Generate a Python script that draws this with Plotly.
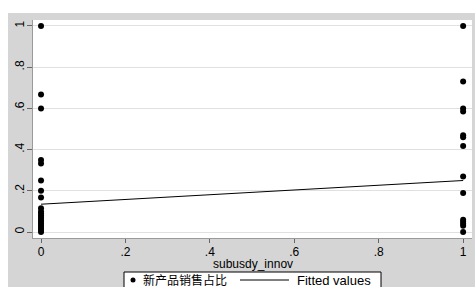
import plotly.graph_objects as go

# data
subsidy_0_share = [1.0, 0.667, 0.6, 0.35, 0.333, 0.25, 0.2, 0.167, 0.115, 0.1, 0.09,
                   0.08, 0.07, 0.06, 0.05, 0.04, 0.03, 0.02, 0.01, 0.0]
subsidy_1_share = [1.0, 0.73, 0.6, 0.585, 0.47, 0.46, 0.417, 0.27, 0.19, 0.06, 0.05,
                   0.04, 0.03, 0.0]
fit_x = [0, 1]
fit_y = [0.135, 0.25]
tick_vals = [0, 0.2, 0.4, 0.6, 0.8, 1]
tick_text = ["0", ".2", ".4", ".6", ".8", "1"]
series_names = ["新产品销售占比", "Fitted values"]
x_title = "subusdy_innov"

xs = [0] * len(subsidy_0_share) + [1] * len(subsidy_1_share)
ys = subsidy_0_share + subsidy_1_share

W, H = 475, 287
ml, mr, mt, mb = 33, 3, 20, 49
pw, ph = W - ml - mr, H - mt - mb


def px(x):
    return (x - ml) / pw


def py(y):
    return 1 - (y - mt) / ph


FONT = "Liberation Sans, Arial, Noto Sans CJK SC, sans-serif"
BG = "#d5d5d5"

fig = go.Figure()
fig.add_trace(go.Scatter(x=xs, y=ys, mode="markers", name=series_names[0],
                         marker=dict(color="black", size=6), showlegend=False))
fig.add_trace(go.Scatter(x=fit_x, y=fit_y, mode="lines", name=series_names[1],
                         line=dict(color="black", width=1), showlegend=False))

# white page strips around the gray graph region
fig.add_shape(type="rect", xref="paper", yref="paper", layer="below",
              x0=px(0), x1=px(W), y0=py(13), y1=py(0),
              fillcolor="white", line_width=0)
fig.add_shape(type="rect", xref="paper", yref="paper", layer="below",
              x0=px(0), x1=px(8), y0=py(H), y1=py(0),
              fillcolor="white", line_width=0)

# legend box (drawn by hand so that it can sit partly below the page edge)
leg_y = 280
fig.add_shape(type="rect", xref="paper", yref="paper", layer="above",
              x0=px(124), x1=px(381), y0=py(292), y1=py(272),
              fillcolor="white", line=dict(color="black", width=1))
fig.add_shape(type="circle", xref="paper", yref="paper", layer="above",
              x0=px(130.5), x1=px(135.5), y0=py(leg_y + 2.5), y1=py(leg_y - 2.5),
              fillcolor="black", line=dict(color="black", width=0))
fig.add_shape(type="line", xref="paper", yref="paper", layer="above",
              x0=px(240), x1=px(289), y0=py(leg_y), y1=py(leg_y),
              line=dict(color="black", width=1))
fig.add_annotation(xref="paper", yref="paper", x=px(142), y=py(leg_y),
                   xanchor="left", yanchor="middle", showarrow=False,
                   text=series_names[0], font=dict(size=12), borderpad=0)
fig.add_annotation(xref="paper", yref="paper", x=px(296), y=py(leg_y),
                   xanchor="left", yanchor="middle", showarrow=False,
                   text=series_names[1], font=dict(size=13), borderpad=0)
# axis title
fig.add_annotation(xref="paper", yref="paper", x=0.5, y=py(264),
                   xanchor="center", yanchor="middle", showarrow=False,
                   text=x_title, font=dict(size=12), borderpad=0)

fig.update_layout(
    width=W, height=H,
    margin=dict(l=ml, r=mr, t=mt, b=mb, autoexpand=False),
    paper_bgcolor=BG, plot_bgcolor="white",
    font=dict(family=FONT, size=12, color="black"),
    showlegend=False,
    xaxis=dict(range=[-0.019, 1.021], tickvals=tick_vals, ticktext=tick_text,
               showgrid=False, zeroline=False, showline=True, linecolor="#9a9a9a",
               ticks="outside", ticklen=4, tickcolor="#666666",
               tickfont=dict(size=12), ticklabelstandoff=-1),
    yaxis=dict(range=[-0.029, 1.029], tickvals=tick_vals, ticktext=tick_text,
               showgrid=True, gridcolor="#e0e0e0", gridwidth=1, zeroline=False,
               showline=True, linecolor="#9a9a9a",
               ticks="outside", ticklen=5, tickcolor="#666666",
               tickangle=-90, tickfont=dict(size=12), ticklabelstandoff=-2),
)

fig.write_html(
    "out.html",
    config={"displayModeBar": False},
    post_script="document.body.style.margin='0';document.body.style.overflow='hidden';",
)
